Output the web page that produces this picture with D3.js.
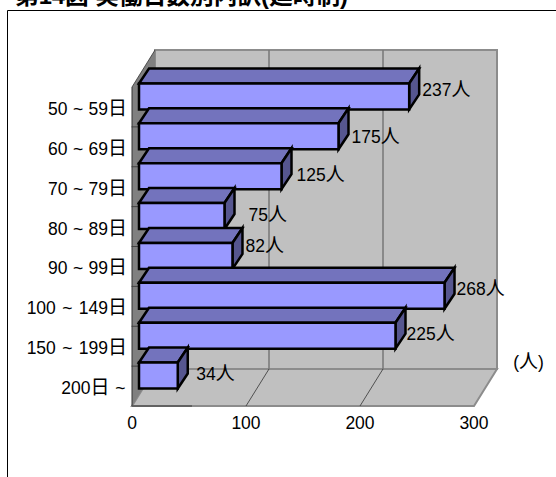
<!DOCTYPE html>
<html><head><meta charset="utf-8">
<script src="https://cdn.jsdelivr.net/npm/d3@7/dist/d3.min.js"></script>
<style>html,body{margin:0;padding:0;background:#fff;overflow:hidden}
svg{display:block}
text{font-family:"Liberation Sans","Noto Sans CJK JP",sans-serif;fill:#000}</style>
</head><body><script>
const titleText = "第14図 実働日数別内訳(延時制)";
const categories = ["50 ~ 59日","60 ~ 69日","70 ~ 79日","80 ~ 89日","90 ~ 99日","100 ~ 149日","150 ~ 199日","200日 ~"];
const values = [237,175,125,75,82,268,225,34];
const xTicks = [0,100,200,300];
const unit = "人";
const axisUnit = "(人)";

const W=556,H=477;
const svg=d3.select("body").append("svg").attr("width",W).attr("height",H);
const x=d3.scaleLinear().domain([0,300]).range([132,474]);
const y=d3.scaleBand().domain(categories).range([87,406]);
const wallDx=23,wallDy=-37;
const yTop=y.range()[0],yBot=y.range()[1];
const x0=x(0),x1=x(300);
const poly=(pts,fill,stroke,sw)=>svg.append("polygon").attr("points",pts.map(p=>p.join(",")).join(" "))
  .attr("fill",fill).attr("stroke",stroke||"none").attr("stroke-width",sw||0).attr("stroke-linejoin","miter");
const line=(a,b,stroke,sw)=>svg.append("line").attr("x1",a[0]).attr("y1",a[1]).attr("x2",b[0]).attr("y2",b[1]).attr("stroke",stroke).attr("stroke-width",sw);
// Latin text and CJK glyphs are drawn at different sizes, as in the reference
const mixed=(sel,str)=>{
  str.split(/([\u3000-\u9fff]+)/).filter(s=>s).forEach(part=>{
    sel.append("tspan").attr("font-size",/[\u3000-\u9fff]/.test(part)?19:17.5).text(part);
  });
  return sel;
};

// title, clipped by the page top as in the reference
svg.append("text").attr("x",15).attr("y",3.5).attr("font-size",23.7).attr("font-weight","bold").text(titleText);
// frame
svg.append("path").attr("d",`M7.5 ${H}V10.5H${W}`).attr("fill","none").attr("stroke","#000").attr("stroke-width",1);

// floor, back wall, side wall
poly([[x0,yBot],[x0+wallDx,yBot+wallDy],[x1+wallDx,yBot+wallDy],[x1,yBot]],"#c0c0c0","#8c8c8c",2);
poly([[x0+wallDx,yTop+wallDy],[x1+wallDx,yTop+wallDy],[x1+wallDx,yBot+wallDy],[x0+wallDx,yBot+wallDy]],"#c0c0c0","#8c8c8c",2);
poly([[x0,yTop],[x0+wallDx,yTop+wallDy],[x0+wallDx,yBot+wallDy],[x0,yBot]],"#808080","none");
line([x0,yTop],[x0+wallDx,yTop+wallDy],"#333",.8);
line([x0,yTop],[x0,yBot],"#333",1);
line([x0,yBot],[x0+60,yBot],"#555",1.5);

// gridlines
[100,200].forEach(t=>{
  line([x(t)+wallDx,yTop+wallDy],[x(t)+wallDx,yBot+wallDy],"#777",1.5);
  line([x(t)+wallDx,yBot+wallDy],[x(t),yBot],"#333",.8);
});
// category ticks
categories.forEach((c,i)=>{ if(i>0) line([x0-0.5,y(c)],[x0+7,y(c)],"#333",.8); });

// bars
const barDx=7,barDy=-11,barH=26,dDx=10,dDy=-15;
categories.forEach((c,i)=>{
  const v=values[i];
  const l=x(0)+barDx, r=x(v)+barDx, t=y(c)+y.bandwidth()/2+barDy-barH/2+0.5, b=t+barH;
  poly([[l,t],[l+dDx,t+dDy],[r+dDx,t+dDy],[r,t]],"#7373bd","#000",2.5);
  poly([[r,t],[r+dDx,t+dDy],[r+dDx,b+dDy],[r,b]],"#56568f","#000",2.5);
  poly([[l,t],[r,t],[r,b],[l,b]],"#9999ff","#000",2.5);
});

// category labels
const labelDx=[0,0,0,0,0,0,0,-1.5];
const labelWordSpacing=[.5,.5,.5,.5,.5,1.5,1.5,1];
categories.forEach((c,i)=>mixed(svg.append("text").attr("x",127+labelDx[i]).attr("y",y(c)+y.bandwidth()/2+8)
  .attr("text-anchor","end").attr("word-spacing",labelWordSpacing[i]),c));
// value labels: hand-placed offsets from the bar end, as the reference has them
const nudgeX=[3,3,5,14,3,2,1,8.5];
const nudgeY=[-10.5,-4,-6,-6,-14,-11,-6,-6];
categories.forEach((c,i)=>mixed(svg.append("text")
  .attr("x",x(values[i])+barDx+dDx+nudgeX[i])
  .attr("y",y(c)+y.bandwidth()/2+nudgeY[i]),values[i]+unit));
// x labels
xTicks.forEach(t=>svg.append("text").attr("x",x(t)).attr("y",429).attr("text-anchor","middle").attr("font-size",17.5).text(t));
mixed(svg.append("text").attr("x",528.5).attr("y",368).attr("text-anchor","middle"),axisUnit);
</script></body></html>
